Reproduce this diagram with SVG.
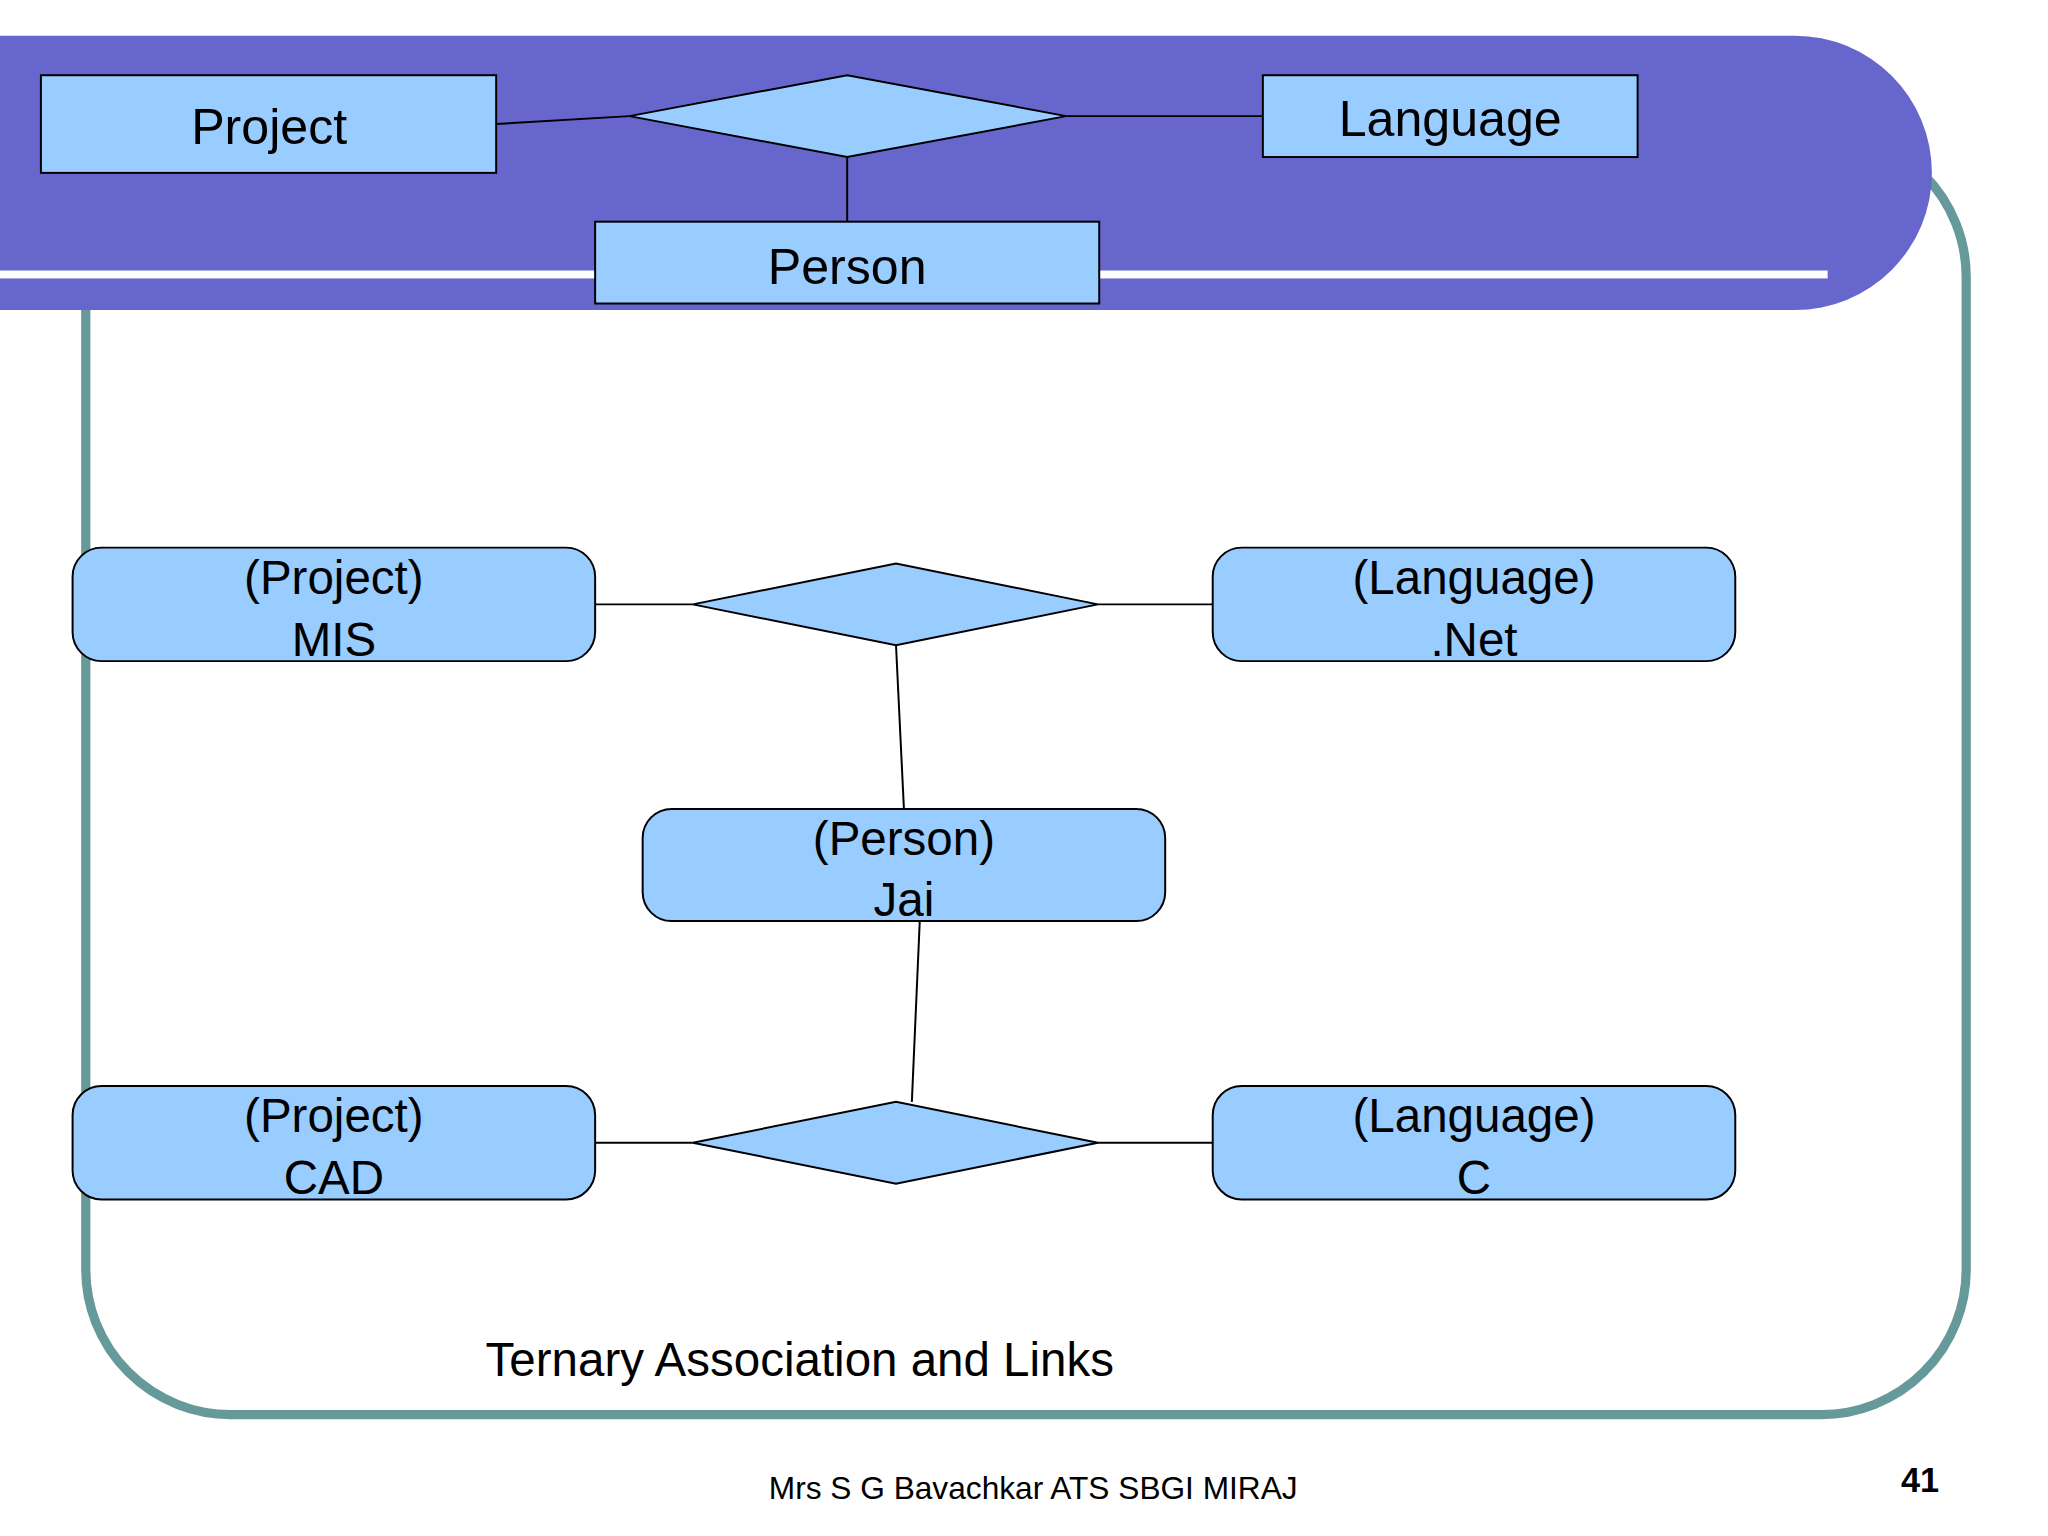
<svg xmlns="http://www.w3.org/2000/svg" width="2048" height="1536" viewBox="0 0 2048 1536">
<style>
.box{fill:#99ccff;stroke:#000;stroke-width:1.5}
.ln{stroke:#000;stroke-width:1.5;fill:none}
text{font-family:"Liberation Sans",Arial,sans-serif;fill:#000;text-anchor:middle}
.t{font-size:38px}
.s{font-size:36px}
</style>
<rect width="2048" height="1536" fill="#fff"/>
<g transform="scale(1.3196)">
<g id="frame">
<rect x="65" y="100" width="1425" height="972" rx="110" fill="none" stroke="#669999" stroke-width="7"/>
<path d="M0 27 H1360 A104 104 0 0 1 1360 235 H0 Z" fill="#6666cc"/>
<rect x="0" y="205" width="1385" height="6" fill="#fff"/>
</g>
<g id="connectors">
<line class="ln" x1="376" y1="94" x2="477" y2="88"/>
<line class="ln" x1="808" y1="88" x2="957" y2="88"/>
<line class="ln" x1="642" y1="119" x2="642" y2="168"/>
<line class="ln" x1="451" y1="458" x2="525" y2="458"/>
<line class="ln" x1="832" y1="458" x2="919" y2="458"/>
<line class="ln" x1="679" y1="489" x2="685" y2="613"/>
<line class="ln" x1="697" y1="698" x2="691" y2="835"/>
<line class="ln" x1="451" y1="866" x2="525" y2="866"/>
<line class="ln" x1="832" y1="866" x2="919" y2="866"/>
</g>
<g id="project"><rect class="box" x="31" y="57" width="345" height="74"/><text class="t" x="204" y="109">Project</text></g>
<g id="assoc"><polygon class="box" points="477,88 642,57 808,88 642,119"/></g>
<g id="language"><rect class="box" x="957" y="57" width="284" height="62"/><text class="t" x="1099" y="103">Language</text></g>
<g id="person"><rect class="box" x="451" y="168" width="382" height="62"/><text class="t" x="642" y="215">Person</text></g>
<g id="mis"><rect class="box" x="55" y="415" width="396" height="86" rx="22"/><text class="s" x="253" y="450">(Project)</text><text class="s" x="253" y="497">MIS</text></g>
<g id="link1"><polygon class="box" points="525,458 679,427 832,458 679,489"/></g>
<g id="net"><rect class="box" x="919" y="415" width="396" height="86" rx="22"/><text class="s" x="1117" y="450">(Language)</text><text class="s" x="1117" y="497">.Net</text></g>
<g id="jai"><rect class="box" x="487" y="613" width="396" height="85" rx="22"/><text class="s" x="685" y="648">(Person)</text><text class="s" x="685" y="694">Jai</text></g>
<g id="link2"><polygon class="box" points="525,866 679,835 832,866 679,897"/></g>
<g id="cad"><rect class="box" x="55" y="823" width="396" height="86" rx="22"/><text class="s" x="253" y="858">(Project)</text><text class="s" x="253" y="905">CAD</text></g>
<g id="c"><rect class="box" x="919" y="823" width="396" height="86" rx="22"/><text class="s" x="1117" y="858">(Language)</text><text class="s" x="1117" y="905">C</text></g>
<text x="368" y="1043" style="font-size:36px;text-anchor:start">Ternary Association and Links</text>
<text x="783" y="1136" style="font-size:24px">Mrs S G Bavachkar ATS SBGI MIRAJ</text>
<text x="1455" y="1131" style="font-size:26px;font-weight:bold">41</text>
</g>
</svg>
